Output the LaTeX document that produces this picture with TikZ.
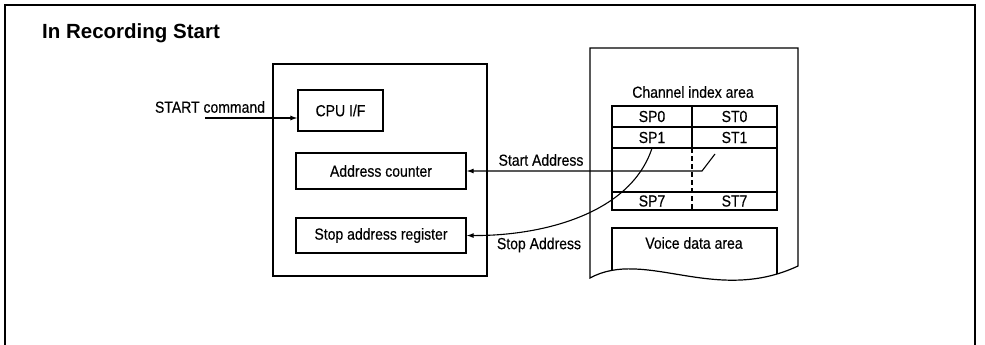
\documentclass[tikz,border=0pt]{standalone}
\usepackage{fontspec}
\setmainfont{Liberation Sans}[FakeStretch=0.875,FakeBold=0.4]
\newfontfamily\titlefont{Liberation Sans}
\usetikzlibrary{arrows.meta}
\begin{document}
\begin{tikzpicture}[x=1pt,y=-1pt,
  lbl/.style={inner sep=0pt, font=\fontsize{16}{18}\selectfont},
  box/.style={draw, line width=1.2pt, inner sep=0pt},
  ln/.style={line width=1.2pt},
  arr/.style={line width=1.1pt, -{Latex[length=7pt,width=5pt]}},
  frame/.style={line width=1.8pt}]
\useasboundingbox (0,0) rectangle (985,345);
% outer frame (open at bottom)
\draw[frame] (5,345) -- (5,5) -- (975,5) -- (975,345);
% title
\node[anchor=base west, inner sep=0pt, font=\titlefont\bfseries\fontsize{20.5}{24}\selectfont] (title) at (42,39) {In Recording Start};
% main block
\node[box, minimum width=214pt, minimum height=212pt] (main) at (380,170) {};
\node[box, lbl, minimum width=85pt, minimum height=41pt] (cpu) at (340.5,110.5) {CPU I/F};
\node[box, lbl, minimum width=170pt, minimum height=36pt] (addr) at (381,171) {Address counter};
\node[box, lbl, minimum width=170pt, minimum height=35pt] (stopreg) at (381,235.5) {Stop address register};
% memory card
\draw[ln] (590,278) -- (590,48) -- (798,48) -- (798,266) .. controls (715,305) and (645,248) .. (590,278) -- cycle;
\begin{scope}
  \clip (590,278) -- (590,48) -- (798,48) -- (798,266) .. controls (715,305) and (645,248) .. (590,278) -- cycle;
  \draw[ln] (612,300) -- (612,228) -- (777,228) -- (777,300);
\end{scope}
\node[lbl] (voice) at (694,243) {Voice data area};
% channel index table
\node[lbl] (chan) at (693,92) {Channel index area};
\draw[ln] (612,106) rectangle (777,210);
\draw[ln] (612,127) -- (777,127);
\draw[ln] (612,148) -- (777,148);
\draw[ln] (612,192) -- (777,192);
\draw[ln] (692,106) -- (692,148);
\draw[ln, dash pattern=on 5pt off 3pt] (692,148) -- (692,210);
\node[lbl, minimum height=21pt] (sp0) at (652,116.5) {SP0};
\node[lbl, minimum height=21pt] (st0) at (734.5,116.5) {ST0};
\node[lbl, minimum height=21pt] (sp1) at (652,137.5) {SP1};
\node[lbl, minimum height=21pt] (st1) at (734.5,137.5) {ST1};
\node[lbl] (sp7) at (652,201) {SP7};
\node[lbl] (st7) at (734.5,201) {ST7};
% labels
\node[lbl] (startcmd) at (210,107) {START command};
\node[lbl] (startaddr) at (541,160) {Start Address};
\node[lbl] (stopaddr) at (539,245) {Stop Address};
% connectors
\coordinate (cmdtail) at (205,118);
\draw[arr] (cmdtail) -- (cmdtail -| cpu.west);
\coordinate (sttip) at (715,154);
\coordinate (stbend) at (702,171);
\draw[arr] (sttip) -- (stbend) -- (stbend -| addr.east);
\draw[arr] (sp1.south) .. controls (630,215) and (540,236) .. (stopreg.east);
\end{tikzpicture}
\end{document}
